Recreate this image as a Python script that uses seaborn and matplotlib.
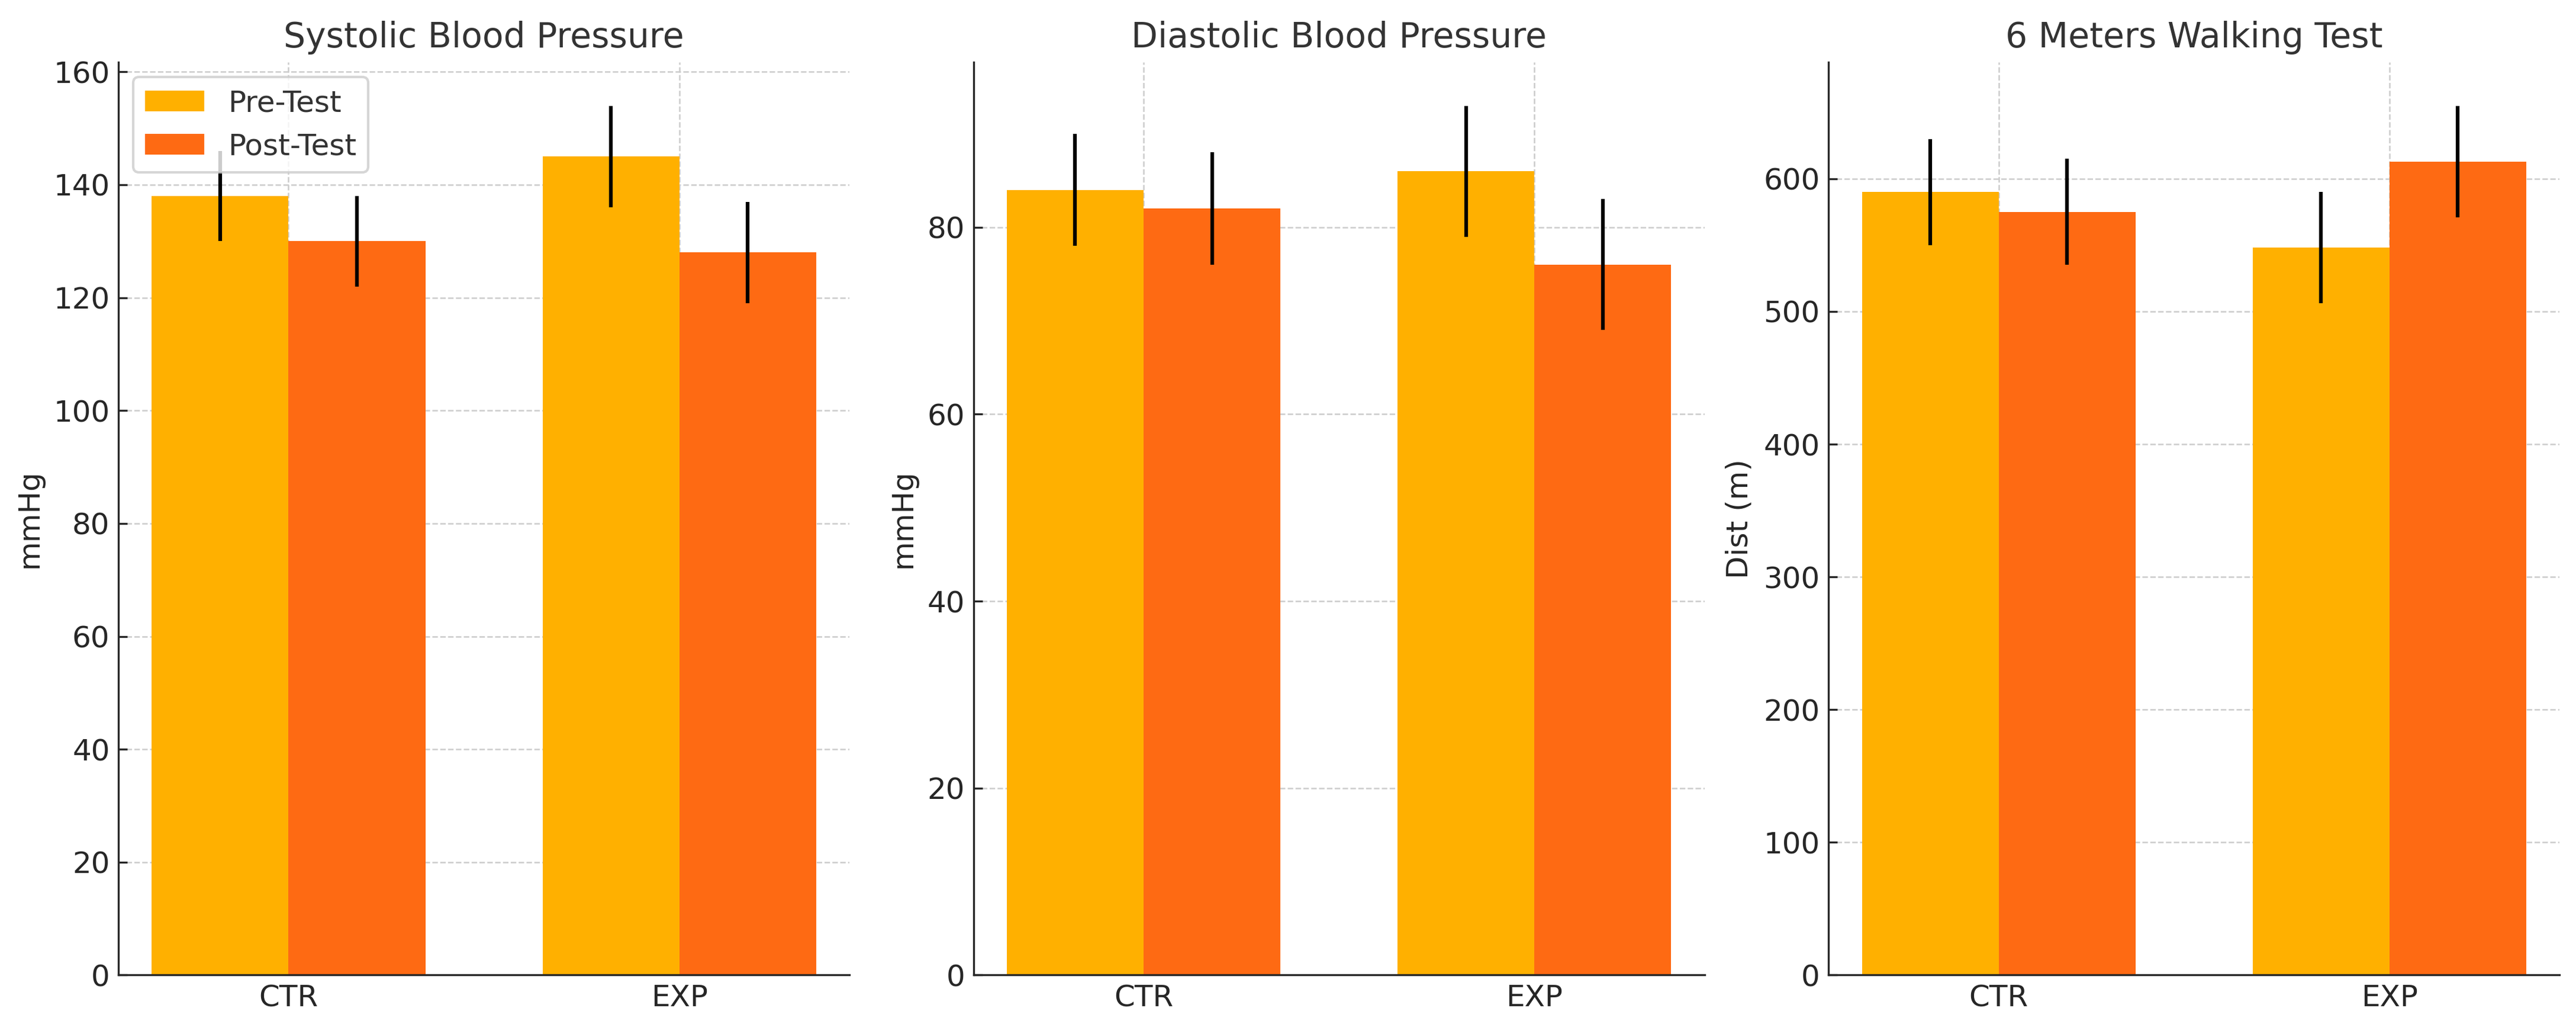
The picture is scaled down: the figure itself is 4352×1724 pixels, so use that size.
import pandas as pd
import numpy as np
import matplotlib
matplotlib.use("Agg")
import matplotlib.pyplot as plt
import seaborn as sns

# group labels and test phases
groups = ["CTR", "EXP"]
phases = ["Pre-Test", "Post-Test"]

# means (pre / post) and std per group
sbp_pre = [138, 145]
sbp_post = [130, 128]
sbp_pre_sd = [8, 9]
sbp_post_sd = [8, 9]

dbp_pre = [84, 86]
dbp_post = [82, 76]
dbp_pre_sd = [6, 7]
dbp_post_sd = [6, 7]

walk_pre = [590, 548]
walk_post = [575, 613]
walk_pre_sd = [40, 42]
walk_post_sd = [40, 42]

titles = ["Systolic Blood Pressure", "Diastolic Blood Pressure", "6 Meters Walking Test"]
ylabels = ["mmHg", "mmHg", "Dist (m)"]

colors = ["#FFB000", "#FE6A13"]

sns.set_style("ticks")
plt.rcParams['font.family'] = ['DejaVu Sans']
plt.rcParams['text.color'] = '#333333'

fig, axes = plt.subplots(1, 3, figsize=(4352 / 300, 1724 / 300), dpi=300)
fig.subplots_adjust(left=0.046, right=0.9936, bottom=0.045, top=0.939, wspace=0.17)

panels = [
    (sbp_pre, sbp_post, sbp_pre_sd, sbp_post_sd),
    (dbp_pre, dbp_post, dbp_pre_sd, dbp_post_sd),
    (walk_pre, walk_post, walk_pre_sd, walk_post_sd),
]

for i, (ax, (pre, post, pre_sd, post_sd)) in enumerate(zip(axes, panels)):
    df = pd.DataFrame({
        "Group": groups * 2,
        "Phase": [phases[0]] * 2 + [phases[1]] * 2,
        "Value": pre + post,
        "SD": pre_sd + post_sd,
    })
    sns.barplot(data=df, x="Group", y="Value", hue="Phase", hue_order=phases,
                palette=colors, saturation=1, width=0.7, errorbar=None,
                linewidth=0, edgecolor="none", ax=ax, zorder=2)
    # error bars at bar centres, from the bars seaborn drew
    bars = [p for p in ax.patches if p.get_height() > 0]
    xs = [b.get_x() + b.get_width() / 2 for b in bars]
    hs = [b.get_height() for b in bars]
    sds = pre_sd + post_sd
    ax.errorbar(xs, hs, yerr=sds, fmt="none", ecolor="black", elinewidth=1.5, capsize=0, zorder=3)
    ax.set_xlim(-0.435, 1.435)
    ax.set_title(titles[i], fontsize=14, color="#333333")
    ax.set_ylabel(ylabels[i], fontsize=12)
    ax.set_xlabel("")
    ax.grid(True, linestyle="--", color="#cccccc", linewidth=0.6, zorder=0)
    ax.set_axisbelow(True)
    ax.tick_params(direction="in", length=3.5, labelsize=12)
    sns.despine(ax=ax)
    ax.legend_.remove()

axes[0].legend(loc="upper left", fontsize=12)

fig.savefig("out.png", dpi=300)
print("script complete")
